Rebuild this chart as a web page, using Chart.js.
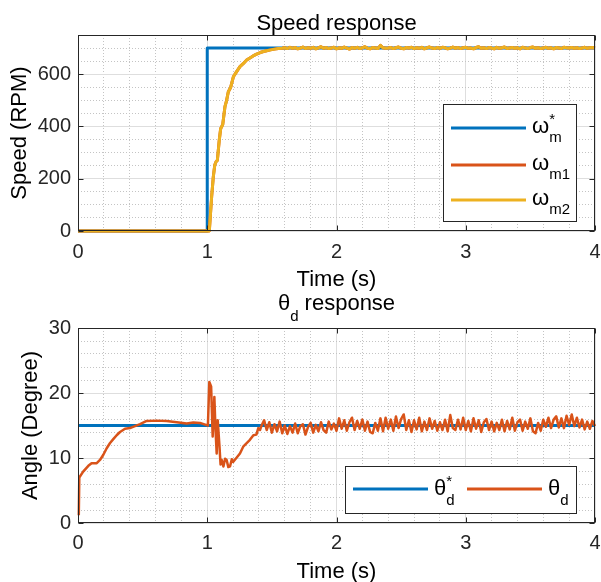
<!DOCTYPE html>
<html>
<head>
<meta charset="utf-8">
<script src="https://cdn.jsdelivr.net/npm/chart.js@4.4.0/dist/chart.umd.min.js"></script>
<style>
  html, body { margin: 0; padding: 0; background: #fff; overflow: hidden; }
  #wrap { position: relative; width: 601px; height: 582px; }
  #speedBox { position: absolute; left: 0; top: 0; width: 601px; height: 293px; }
  #angleBox { position: absolute; left: 0; top: 293px; width: 601px; height: 292px; }
</style>
</head>
<body>
<div id="wrap">
  <div id="speedBox"><canvas id="speedCanvas" width="601" height="293"></canvas></div>
  <div id="angleBox"><canvas id="angleCanvas" width="601" height="292"></canvas></div>
</div>
<script>
  // === Data ===
  const timeTicks = [0, 1, 2, 3, 4];
  const speedTicks = [0, 200, 400, 600];
  const angleTicks = [0, 10, 20, 30];

  // reference speed (step at 1 s)
  const speedRefTime = [0, 1, 1, 4];
  const speedRef = [0, 0, 700, 700];

  // measured speed, rise part
  const riseTime = [0, 1.0, 1.016, 1.034, 1.047, 1.058, 1.068, 1.078, 1.093, 1.104, 1.112, 1.12, 1.137,
    1.15, 1.163, 1.18, 1.202, 1.225, 1.253, 1.28, 1.305, 1.33, 1.355, 1.382, 1.41, 1.435, 1.46, 1.49,
    1.52, 1.55, 1.58];
  const riseSpeed = [0, 0, 0, 131, 208, 252, 265, 270, 348, 392, 399, 408, 476,
    500, 533, 548, 590, 608, 629, 641, 654, 662, 670, 677, 683, 687, 690, 693,
    696, 698, 699];

  // measured speed, steady part (sampled every 0.02 s from 1.6 s)
  const steadySpeedStart = 1.6;
  const sampleStep = 0.02;
  const steadySpeed = [
    701, 698, 703, 699, 702, 697, 700, 704, 698, 701,
    699, 703, 697, 701, 705, 699, 702, 698, 700, 703,
    697, 701, 699, 704, 700, 696, 702, 699, 703, 698,
    701, 705, 699, 697, 702, 700, 698, 710, 701, 699,
    700, 702, 698, 701, 704, 699, 697, 702, 700, 703,
    698, 701, 699, 703, 697, 701, 704, 700, 698, 702,
    699, 703, 701, 697, 700, 704, 699, 702, 698, 701,
    703, 699, 700, 697, 702, 705, 699, 701, 698, 702,
    700, 697, 703, 699, 701, 704, 698, 700, 702, 699,
    701, 697, 703, 700, 698, 702, 704, 699, 701, 698,
    700, 703, 699, 701, 697, 702, 700, 698, 703, 701,
    700, 702, 699, 701, 698, 700, 703, 699, 701, 702,
    700
  ];

  // reference angle
  const angleRefTime = [0, 4];
  const angleRef = [15, 15];

  // measured angle, transient part
  const angleTransTime = [0.006, 0.01, 0.04, 0.08, 0.105, 0.145, 0.17, 0.196, 0.222, 0.248, 0.273, 0.299,
    0.325, 0.364, 0.402, 0.441, 0.48, 0.531, 0.609, 0.686, 0.764, 0.841, 0.892, 0.944, 0.99, 1.005,
    1.016, 1.03, 1.042, 1.055, 1.063, 1.073, 1.081, 1.094, 1.103, 1.112, 1.125, 1.138, 1.15, 1.163,
    1.176, 1.19, 1.2, 1.225, 1.253, 1.28, 1.305, 1.33, 1.357, 1.38, 1.395, 1.408];
  const angleTrans = [1.2, 7.0, 7.9, 8.8, 9.2, 9.2, 9.7, 10.5, 11.5, 12.3, 12.9, 13.5,
    14.0, 14.5, 14.6, 14.9, 15.2, 15.7, 15.75, 15.7, 15.5, 15.3, 15.45, 15.4, 15.1, 15.0,
    21.7, 21.0, 13.3, 19.4, 14.8, 10.7, 15.8, 12.0, 9.0, 9.7, 8.7, 9.9, 9.7, 8.6,
    8.7, 9.8, 9.4, 10.0, 10.7, 11.8, 12.3, 12.8, 13.5, 13.6, 14.6, 14.3];

  // measured angle, steady part (sampled every 0.02 s from 1.42 s)
  const steadyAngleStart = 1.42;
  const steadyAngle = [
    15.0, 15.8, 14.3, 15.5, 13.9, 15.2, 14.1, 15.6, 13.8, 15.0,
    13.7, 14.9, 13.9, 15.3, 13.8, 14.9, 15.2, 13.6, 14.8, 15.4,
    13.9, 15.1, 14.1, 15.5, 14.3, 13.9, 15.6, 14.4, 15.3, 14.2,
    16.1, 14.5, 15.8, 14.2, 15.5, 16.2, 14.3, 15.7, 14.5, 15.9,
    14.2, 15.6, 14.0, 13.8, 15.4, 14.2, 16.1, 14.1, 16.2, 14.5,
    15.9, 14.2, 16.4, 14.6, 16.0, 16.7, 14.3, 15.8, 14.0, 15.8,
    14.4, 16.2, 14.1, 15.6, 14.3, 16.1, 14.5, 15.7, 14.2, 15.5,
    14.3, 15.9, 14.1, 16.6, 14.6, 14.3, 15.9, 14.4, 16.2, 14.3,
    15.7, 14.1, 16.1, 14.5, 15.8, 14.0, 15.5, 16.0, 14.3, 15.6,
    14.1, 15.4, 14.3, 15.9, 14.1, 15.7, 14.4, 16.2, 14.2, 15.5,
    15.9, 14.2, 15.6, 14.5, 16.1, 14.1, 13.8, 15.4, 14.2, 15.9,
    14.8, 16.2, 14.6, 15.9, 16.4, 14.7, 16.1, 14.6, 16.5, 15.1,
    16.7, 14.9, 16.2, 14.7, 15.9, 14.4, 15.6, 14.5, 15.7, 14.9
  ];

  // legend / title text pieces (main, subscript, superscript)
  const speedLegendMain = ['ω', 'ω', 'ω'];
  const speedLegendSub = ['m', 'm1', 'm2'];
  const speedLegendSup = ['*', '', ''];
  const angleLegendMain = ['θ', 'θ'];
  const angleLegendSub = ['d', 'd'];
  const angleLegendSup = ['*', ''];

  // === Helpers ===
  const FAMILY = "'Liberation Sans', Arial, Helvetica, sans-serif";
  const BLUE = '#0072BD', ORANGE = '#D95319', YELLOW = '#EDB120';
  const MAJOR = '#dedede', MINOR = '#c4c4c4', AXIS = '#262626';

  Chart.defaults.font.family = FAMILY;
  Chart.defaults.color = AXIS;

  function toPoints(xs, ys) {
    return ys.map((y, i) => ({ x: xs[i], y: y }));
  }
  function sampled(start, values) {
    return values.map((_, i) => +(start + i * sampleStep).toFixed(3));
  }

  const speedTime = riseTime.concat(sampled(steadySpeedStart, steadySpeed));
  const speedM1 = riseSpeed.concat(steadySpeed);
  const speedM2 = riseSpeed.concat(steadySpeed);
  const angleTime = angleTransTime.concat(sampled(steadyAngleStart, steadyAngle));
  const angle = angleTrans.concat(steadyAngle);

  function onList(v, list) {
    return list.some(t => Math.abs(t - v) < 1e-6);
  }

  function buildScales(o) {
    return {
      x: {
        type: 'linear', min: 0, max: 4,
        afterBuildTicks: s => { s.ticks = timeTicks.map(v => ({ value: v })); },
        afterFit: s => { s.height = 62; s.paddingLeft = 0; s.paddingRight = 0; },
        ticks: { padding: o.xPad, font: { size: 20 }, color: AXIS, callback: v => String(v) },
        grid: { color: MAJOR, drawTicks: false },
        border: { display: false },
        title: { display: true, text: 'Time (s)', font: { size: 22 }, color: '#000', padding: { top: 0, bottom: 0 } }
      },
      xMinor: {
        type: 'linear', position: 'bottom', min: 0, max: 4,
        afterFit: s => { s.height = 0; s.paddingLeft = 0; s.paddingRight = 0; },
        ticks: { display: false, stepSize: 0.2 },
        grid: { drawTicks: false, color: c => onList(c.tick.value, timeTicks) ? 'rgba(0,0,0,0)' : MINOR },
        border: { display: false, dash: [1, 2] }
      },
      y: {
        type: 'linear', min: 0, max: o.yMax,
        afterBuildTicks: s => { s.ticks = o.yTicks.map(v => ({ value: v })); },
        afterFit: s => { s.width = 78; },
        ticks: { padding: 7, font: { size: 20 }, color: AXIS, callback: v => String(v) },
        grid: { color: MAJOR, drawTicks: false },
        border: { display: false },
        title: { display: true, text: o.yTitle, font: { size: 22 }, color: '#000', padding: { top: o.yTitlePad, bottom: 0 } }
      },
      yMinor: {
        type: 'linear', position: 'left', min: 0, max: o.yMax,
        afterFit: s => { s.width = 0; },
        ticks: { display: false, stepSize: o.yMinorStep, includeBounds: false },
        grid: { drawTicks: false, color: c => (onList(c.tick.value, o.yTicks) || c.tick.value >= o.yMax) ? 'rgba(0,0,0,0)' : MINOR },
        border: { display: false, dash: [1, 2] }
      }
    };
  }

  function drawSym(ctx, x, base, main, sub, sup, subDy) {
    ctx.font = '22px ' + FAMILY;
    ctx.fillText(main, x, base);
    const w = ctx.measureText(main).width;
    ctx.font = '15px ' + FAMILY;
    if (sup) ctx.fillText(sup, x + w, base - 9);
    let end = x + w;
    if (sub) {
      ctx.fillText(sub, x + w, base + subDy);
      end += ctx.measureText(sub).width;
    }
    return end;
  }

  // box, inner ticks, title and legend drawn on top of the plot
  const framePlugin = {
    id: 'frame',
    afterDraw(chart, args, opts) {
      const ctx = chart.ctx;
      const a = chart.chartArea;
      const xs = chart.scales.x, ys = chart.scales.y;
      ctx.save();
      ctx.strokeStyle = AXIS;
      ctx.lineWidth = 1;
      const L = Math.round(a.left) + 0.5, R = Math.round(a.right) - 0.5;
      const T = Math.round(a.top) + 0.5, B = Math.round(a.bottom) - 0.5;
      ctx.strokeRect(L, T, R - L, B - T);
      ctx.beginPath();
      timeTicks.forEach(v => {
        const px = Math.round(xs.getPixelForValue(v)) + 0.5;
        ctx.moveTo(px, B); ctx.lineTo(px, B - 5);
        ctx.moveTo(px, T); ctx.lineTo(px, T + 5);
      });
      opts.yTicks.forEach(v => {
        const py = Math.round(ys.getPixelForValue(v)) + 0.5;
        ctx.moveTo(L, py); ctx.lineTo(L + 5, py);
        ctx.moveTo(R, py); ctx.lineTo(R - 5, py);
      });
      ctx.stroke();

      // title
      ctx.fillStyle = '#000';
      ctx.textAlign = 'left';
      ctx.textBaseline = 'alphabetic';
      const cx = (a.left + a.right) / 2;
      const tb = a.top - opts.titleGap;
      if (opts.titleSub) {
        ctx.font = '22px ' + FAMILY;
        const w1 = ctx.measureText(opts.titleMain).width;
        const w3 = ctx.measureText(opts.titleRest).width;
        ctx.font = '15px ' + FAMILY;
        const w2 = ctx.measureText(opts.titleSub).width;
        let x = cx - (w1 + w2 + w3) / 2;
        x = drawSym(ctx, x, tb, opts.titleMain, opts.titleSub, '', 11);
        ctx.font = '22px ' + FAMILY;
        ctx.fillText(opts.titleRest, x, tb);
      } else {
        ctx.font = '22px ' + FAMILY;
        ctx.textAlign = 'center';
        ctx.fillText(opts.titleMain, cx, tb);
        ctx.textAlign = 'left';
      }

      // legend
      const lg = opts.legend;
      const bx = a.right - lg.offRight - lg.width;
      const by = lg.fromBottom ? a.bottom - lg.offBottom - lg.height : a.top + lg.offTop;
      ctx.fillStyle = '#fff';
      ctx.fillRect(bx, by, lg.width, lg.height);
      ctx.strokeStyle = AXIS;
      ctx.strokeRect(Math.round(bx) + 0.5, Math.round(by) + 0.5, lg.width, lg.height);
      lg.items.forEach((it, i) => {
        const ds = chart.data.datasets[it.ds];
        const lx = bx + it.dx, ly = by + it.dy;
        ctx.strokeStyle = ds.borderColor;
        ctx.lineWidth = 3;
        ctx.beginPath();
        ctx.moveTo(lx, ly); ctx.lineTo(lx + 75, ly);
        ctx.stroke();
        ctx.fillStyle = '#000';
        drawSym(ctx, lx + 81, ly + it.baseDy, it.main, it.sub, it.sup, it.subDy);
      });
      ctx.restore();
    }
  };

  const common = {
    responsive: false,
    animation: false,
    devicePixelRatio: 1,
    layout: { padding: { top: 35, right: 6, left: 0, bottom: 0 } },
    elements: { point: { radius: 0 }, line: { tension: 0, borderJoinStyle: 'round' } },
    events: []
  };

  // === Speed response chart ===
  new Chart(document.getElementById('speedCanvas'), {
    type: 'line',
    data: {
      datasets: [
        { label: 'ω*m', data: toPoints(speedRefTime, speedRef), borderColor: BLUE, borderWidth: 3, order: 2, clip: 4 },
        { label: 'ωm1', data: toPoints(speedTime, speedM1), borderColor: ORANGE, borderWidth: 3, order: 1, clip: 4 },
        { label: 'ωm2', data: toPoints(speedTime, speedM2), borderColor: YELLOW, borderWidth: 3, order: 0, clip: 4 }
      ]
    },
    options: Object.assign({}, common, {
      scales: buildScales({ xPad: 9, yMax: 750, yTicks: speedTicks, yMinorStep: 50, yTitle: 'Speed (RPM)', yTitlePad: 7 }),
      plugins: {
        legend: { display: false },
        tooltip: { enabled: false },
        frame: {
          yTicks: speedTicks,
          titleMain: 'Speed response', titleGap: 5.5,
          legend: {
            width: 133, height: 117, offRight: 19, offTop: 69,
            items: speedLegendMain.map((m, i) => ({
              ds: i, dx: 8, dy: 24 + [0, 37, 72][i], baseDy: 5,
              main: m, sub: speedLegendSub[i], sup: speedLegendSup[i], subDy: 9
            }))
          }
        }
      }
    }),
    plugins: [framePlugin]
  });

  // === Angle response chart ===
  new Chart(document.getElementById('angleCanvas'), {
    type: 'line',
    data: {
      datasets: [
        { label: 'θ*d', data: toPoints(angleRefTime, angleRef), borderColor: BLUE, borderWidth: 3, order: 1 },
        { label: 'θd', data: toPoints(angleTime, angle), borderColor: ORANGE, borderWidth: 2.5, order: 0, clip: 4 }
      ]
    },
    options: Object.assign({}, common, {
      scales: buildScales({ xPad: 8, yMax: 30, yTicks: angleTicks, yMinorStep: 2, yTitle: 'Angle (Degree)', yTitlePad: 18 }),
      plugins: {
        legend: { display: false },
        tooltip: { enabled: false },
        frame: {
          yTicks: angleTicks,
          titleMain: 'θ', titleSub: 'd', titleRest: ' response', titleGap: 18,
          legend: {
            width: 231, height: 47, offRight: 19, offBottom: 10, fromBottom: true,
            items: angleLegendMain.map((m, i) => ({
              ds: i, dx: [8, 122][i], dy: 23, baseDy: 6,
              main: m, sub: angleLegendSub[i], sup: angleLegendSup[i], subDy: 10
            }))
          }
        }
      }
    }),
    plugins: [framePlugin]
  });
</script>
</body>
</html>
